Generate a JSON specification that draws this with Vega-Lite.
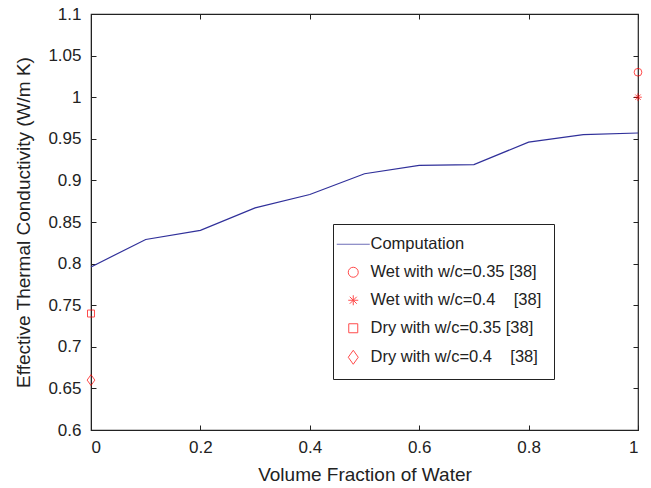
{
  "$schema": "https://vega.github.io/schema/vega-lite/v6.json",
  "width": 547,
  "height": 416,
  "autosize": {"type": "none"},
  "padding": {"left": 91, "top": 14, "right": 13, "bottom": 58},
  "background": "white",
  "config": {
    "view": {"stroke": "#222222", "strokeWidth": 1.2},
    "font": "Liberation Sans",
    "axis": {
      "grid": false,
      "domainColor": "#222222",
      "tickColor": "#222222",
      "labelColor": "#222222",
      "titleColor": "#222222",
      "labelFont": "Liberation Sans",
      "titleFont": "Liberation Sans",
      "labelFontSize": 17,
      "titleFontSize": 19,
      "titleFontWeight": "normal",
      "tickSize": -5
    }
  },
  "resolve": {"axis": {"x": "independent", "y": "independent"}},
  "datasets": {
    "comp": [
      {"x": 0.0, "y": 0.796, "series": "Computation"},
      {"x": 0.1, "y": 0.829, "series": "Computation"},
      {"x": 0.2, "y": 0.840, "series": "Computation"},
      {"x": 0.3, "y": 0.867, "series": "Computation"},
      {"x": 0.4, "y": 0.883, "series": "Computation"},
      {"x": 0.5, "y": 0.908, "series": "Computation"},
      {"x": 0.6, "y": 0.918, "series": "Computation"},
      {"x": 0.7, "y": 0.919, "series": "Computation"},
      {"x": 0.8, "y": 0.946, "series": "Computation"},
      {"x": 0.9, "y": 0.955, "series": "Computation"},
      {"x": 1.0, "y": 0.957, "series": "Computation"}
    ],
    "exp": [
      {"x": 1.0, "y": 1.03, "series": "Wet with w/c=0.35 [38]"},
      {"x": 1.0, "y": 1.0, "series": "Wet with w/c=0.4\u00a0\u00a0\u00a0\u00a0[38]"},
      {"x": 0.0, "y": 0.74, "series": "Dry with w/c=0.35 [38]"},
      {"x": 0.0, "y": 0.66, "series": "Dry with w/c=0.4\u00a0\u00a0\u00a0\u00a0[38]"}
    ]
  },
  "layer": [
    {
      "data": {"name": "comp"},
      "mark": {"type": "line", "strokeWidth": 1.2, "clip": false},
      "encoding": {
        "x": {
          "field": "x", "type": "quantitative",
          "scale": {"domain": [0, 1], "nice": false},
          "axis": {"values": [0, 0.2, 0.4, 0.6, 0.8, 1], "title": "Volume Fraction of Water", "labelPadding": 14, "titlePadding": 10, "format": "~g"}
        },
        "y": {
          "field": "y", "type": "quantitative",
          "scale": {"domain": [0.6, 1.1], "nice": false, "zero": false},
          "axis": {"values": [0.6, 0.65, 0.7, 0.75, 0.8, 0.85, 0.9, 0.95, 1, 1.05, 1.1], "title": "Effective Thermal Conductivity (W/m K)", "labelPadding": 15, "titlePadding": 14, "format": "~g"}
        },
        "color": {
          "field": "series", "type": "nominal",
          "scale": {
            "domain": ["Computation", "Wet with w/c=0.35 [38]", "Wet with w/c=0.4\u00a0\u00a0\u00a0\u00a0[38]", "Dry with w/c=0.35 [38]", "Dry with w/c=0.4\u00a0\u00a0\u00a0\u00a0[38]"],
            "range": ["#30309a", "#ff0000", "#ff0000", "#ff0000", "#ff0000"]
          },
          "legend": {
            "orient": "none",
            "legendX": 242,
            "legendY": 210,
            "title": null,
            "strokeColor": "#222222",
            "fillColor": "white",
            "padding": 12,
            "rowPadding": 11,
            "labelOffset": 9,
            "labelFontSize": 16.5,
            "labelFont": "Liberation Sans",
            "labelColor": "#222222",
            "labelLimit": 300,
            "symbolStrokeWidth": 1
          }
        }
      }
    },
    {
      "data": {"name": "exp"},
      "mark": {"type": "point", "filled": false, "strokeWidth": 1, "size": 60, "clip": false},
      "encoding": {
        "x": {"field": "x", "type": "quantitative", "axis": null},
        "y": {"field": "y", "type": "quantitative", "axis": null},
        "color": {"field": "series", "type": "nominal"},
        "shape": {
          "field": "series", "type": "nominal",
          "scale": {
            "domain": ["Computation", "Wet with w/c=0.35 [38]", "Wet with w/c=0.4\u00a0\u00a0\u00a0\u00a0[38]", "Dry with w/c=0.35 [38]", "Dry with w/c=0.4\u00a0\u00a0\u00a0\u00a0[38]"],
            "range": ["M-3.3,0H3.3", "circle", "M-1,0H1M0,-1V1M-0.7,-0.7L0.7,0.7M-0.7,0.7L0.7,-0.7", "M-0.9,-0.9H0.9V0.9H-0.9Z", "M0,-1.4L1,0L0,1.4L-1,0Z"]
          }
        }
      }
    },
    {
      "data": {"name": "comp"},
      "mark": {"type": "point", "opacity": 0},
      "encoding": {
        "x": {"field": "x", "type": "quantitative", "axis": {"orient": "top", "values": [0, 0.2, 0.4, 0.6, 0.8, 1], "labels": false, "title": null, "domain": false}},
        "y": {"field": "y", "type": "quantitative", "axis": {"orient": "right", "values": [0.6, 0.65, 0.7, 0.75, 0.8, 0.85, 0.9, 0.95, 1, 1.05, 1.1], "labels": false, "title": null, "domain": false}}
      }
    }
  ]
}
